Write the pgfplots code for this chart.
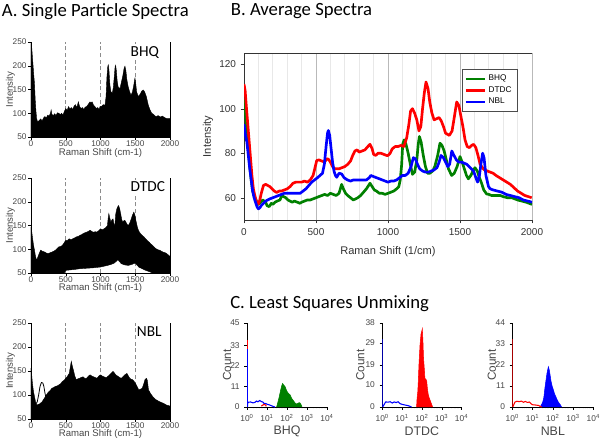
\documentclass[border=0pt]{standalone}
\usepackage{pgfplots}
\pgfplotsset{compat=1.18}
\usepackage{fontspec}
\setmainfont{Liberation Sans}
\newfontfamily\calibri{Carlito}
\definecolor{bgreen}{RGB}{0,128,0}
\definecolor{bred}{RGB}{255,0,0}
\definecolor{bblue}{RGB}{0,0,255}
\definecolor{tickgray}{RGB}{70,70,70}

\pgfplotsset{
  spectA/.style={
    scale only axis, width=104.25pt,
    xmin=0,xmax=2000,ymin=50,ymax=250,
    axis x line=bottom, axis y line=box, ytick pos=left,
    axis line style={-, black, line width=0.5pt},
    xtick={0,500,1000,1500,2000}, ytick={50,100,150,200,250},
    xmajorgrids, major grid style={densely dashed, gray!90, line width=0.5pt},
    tick align=outside, major tick length=2pt, tick style={black},
    ticklabel style={font=\fontsize{6.2}{7}\selectfont, text=tickgray},
    /pgf/number format/assume math mode=true,
    /pgf/number format/1000 sep={},
    xticklabel style={inner sep=0.6pt}, yticklabel style={inner sep=1.2pt},
    xlabel={Raman Shift (cm-1)}, ylabel={Intensity},
    label style={font=\fontsize{7.2}{8}\selectfont, text=tickgray},
    ylabel style={at={([xshift=-15.4pt]axis description cs:0,0.5)}, anchor=center},
  },
  histC/.style={
    scale only axis, width=60pt, height=63pt,
    xmin=1, xmax=10000, ymin=0,
    axis lines=left, axis line style={-, black, line width=0.5pt},
    xtick={1,10,100,1000,10000},
    xticklabels={10\textsuperscript{0},10\textsuperscript{1},10\textsuperscript{2},10\textsuperscript{3},10\textsuperscript{4}},
    tick align=outside, major tick length=2pt, minor tick length=1pt, tick style={black},
    ticklabel style={font=\fontsize{6.3}{7}\selectfont, text=tickgray},
    /pgf/number format/assume math mode=true,
    ylabel={Count},
    label style={font=\fontsize{8.8}{9}\selectfont, text=tickgray},
    xlabel style={at={([yshift=-18.5pt]axis description cs:0.5,0)}, anchor=center, font=\fontsize{9.3}{10}\selectfont},
  },
}

\begin{document}
\begin{tikzpicture}
\path[use as bounding box] (0,0) rectangle (450pt,-330pt);

% ---------- titles ----------
\node[anchor=base west, inner sep=0pt, font=\calibri\fontsize{14}{16}\selectfont] at (1.3pt,-12.5pt) {A. Single Particle Spectra};
\node[anchor=base west, inner sep=0pt, font=\calibri\fontsize{14}{16}\selectfont] at (173pt,-11.8pt) {B. Average Spectra};
\node[anchor=base west, inner sep=0pt, font=\calibri\fontsize{14}{16}\selectfont] at (172.5pt,-231pt) {C. Least Squares Unmixing};

% ---------- A: BHQ ----------
\begin{axis}[spectA, height=71.25pt, at={(23.25pt,-102.75pt)}, anchor=origin,
  xlabel style={at={([yshift=-11.9pt]axis description cs:0.5,0)}, anchor=center}]
\addplot[fill=black, draw=black, line width=0.3pt] coordinates {
(0,247)(10,240)(20,219)(30,200)(40,180)(50,163)(60,130)(70,107)(80,90)(90,84)(100,82)(120,85)(140,88)(160,84)(180,90)(200,93)(220,90)(240,96)(260,94)(280,100)(290,107)(300,98)(320,95)(340,99)(360,95)(380,101)(400,100)(420,97)(440,100)(460,96)(480,104)(500,110)(520,106)(540,114)(560,109)(580,112)(600,108)(620,115)(640,118)(660,112)(681,124)(700,114)(720,110)(740,112)(760,108)(780,113)(800,114)(820,118)(849,124)(860,122)(880,124)(900,117)(920,114)(940,110)(960,112)(980,108)(993,114)(1020,115)(1040,118)(1065,117)(1080,135)(1092,175)(1105,199)(1113,202)(1122,190)(1135,160)(1150,145)(1170,142)(1185,155)(1200,180)(1210,198)(1218,201)(1228,190)(1240,168)(1255,155)(1281,152)(1300,165)(1320,178)(1340,195)(1352,199)(1365,190)(1380,170)(1400,155)(1420,145)(1439,138)(1460,145)(1480,160)(1490,170)(1496,174)(1505,165)(1520,145)(1544,135)(1570,140)(1595,147)(1616,149)(1635,145)(1660,135)(1688,117)(1710,108)(1736,100)(1760,98)(1780,95)(1800,93)(1830,95)(1860,92)(1890,94)(1920,91)(1950,89)(1976,89)(2000,89)
(2000,50)(0,50)} -- cycle;
\node[anchor=base west, fill=white, inner sep=1pt, font=\calibri\fontsize{11.5}{13}\selectfont] at ([xshift=1pt]axis description cs:0.696,0.845) {BHQ};
\end{axis}

% ---------- A: DTDC ----------
\begin{axis}[spectA, height=71.25pt, at={(23.25pt,-204.75pt)}, anchor=origin,
  xlabel style={at={([yshift=-11.2pt]axis description cs:0.5,0)}, anchor=center}]
\addplot[fill=black, draw=black, line width=0.3pt] coordinates {
(0,147)(10,138)(20,126)(35,110)(50,98)(65,85)(80,77)(100,84)(120,92)(140,98)(160,96)(180,95)(200,94)(220,92)(250,91)(280,93)(300,94)(330,96)(350,98)(380,102)(400,105)(430,106)(450,108)(470,112)(500,119)(520,118)(550,122)(580,120)(600,122)(630,124)(650,126)(680,127)(700,129)(730,131)(750,133)(780,135)(800,136)(830,138)(850,140)(880,137)(900,136)(930,137)(950,136)(980,140)(1000,143)(1030,141)(1050,143)(1080,146)(1100,150)(1110,165)(1120,175)(1135,165)(1150,157)(1165,162)(1180,164)(1195,152)(1205,148)(1220,175)(1235,185)(1250,190)(1260,192)(1275,186)(1290,175)(1305,163)(1320,157)(1335,160)(1350,161)(1370,156)(1385,152)(1400,150)(1420,155)(1440,163)(1460,172)(1480,178)(1495,172)(1510,160)(1530,147)(1545,140)(1560,136)(1580,132)(1600,129)(1625,126)(1650,122)(1675,118)(1700,115)(1725,111)(1750,108)(1775,104)(1800,101)(1825,99)(1850,98)(1875,96)(1900,94)(1925,93)(1950,91)(1975,88)(2000,85)
(2000,50)(1750,50)(1700,53)(1650,55.6)(1600,59)(1550,62.6)(1500,71)(1450,68)(1400,66)(1350,67)(1300,69.6)(1250,78)(1200,71)(1150,68)(1100,66)(1000,62.6)(900,61)(800,60)(700,59)(600,57)(500,55.6)(480,50)(0,50)} -- cycle;
\node[anchor=base west, fill=white, inner sep=1pt, font=\calibri\fontsize{11.5}{13}\selectfont] at ([xshift=1pt]axis description cs:0.696,0.856) {DTDC};
\end{axis}

% ---------- A: NBL ----------
\begin{axis}[spectA, height=72pt, at={(23.25pt,-314.25pt)}, anchor=origin,
  xlabel style={at={([yshift=-11.6pt]axis description cs:0.5,0)}, anchor=center}]
\addplot[fill=black, draw=black, line width=0.3pt] coordinates {
(0,156)(10,142)(20,125)(35,108)(50,97)(65,86)(80,79)(100,80)(130,82)(160,86)(200,95)(230,102)(250,106)(280,110)(300,114)(330,116)(350,118)(380,119)(400,121)(430,124)(450,128)(480,131)(500,135)(520,138)(550,145)(565,158)(580,170)(595,160)(610,152)(630,140)(650,132)(680,134)(700,135)(730,137)(750,138)(780,134)(800,135)(830,140)(850,142)(880,139)(900,138)(930,136)(950,135)(980,140)(1000,142)(1030,139)(1050,138)(1080,136)(1100,138)(1130,142)(1150,145)(1180,149)(1200,146)(1220,142)(1250,139)(1280,136)(1300,135)(1330,139)(1350,142)(1380,145)(1400,140)(1420,135)(1440,133)(1460,132)(1480,129)(1500,125)(1525,118)(1550,111)(1575,112)(1600,114)(1620,122)(1640,132)(1660,135)(1675,130)(1690,111)(1720,103)(1750,97)(1775,93)(1800,90)(1850,86)(1900,83)(1950,79)(2000,77)
(2000,50)(0,50)} -- cycle;
\addplot[black, line width=0.6pt] coordinates {(75,82)(90,86)(110,100)(130,118)(150,126)(170,125)(185,118)(200,105)(215,94)(230,90)};
\node[anchor=base west, fill=white, inner sep=1pt, font=\calibri\fontsize{11.5}{13}\selectfont] at ([xshift=1pt]axis description cs:0.741,0.857) {NBL};
\end{axis}

% ---------- B: Average spectra ----------
\begin{axis}[scale only axis, width=216pt, height=125.25pt, at={(183pt,-165pt)}, anchor=origin,
  xmin=0, xmax=2000, ymin=50, ymax=125,
  axis x line=box, axis y line=left, xtick pos=left, ytick pos=left,
  axis line style={-, black!80, line width=0.6pt},
  xtick={0,500,1000,1500,2000}, minor xtick={100,200,300,400,600,700,800,900,1100,1200,1300,1400,1600,1700,1800,1900},
  ytick={60,80,100,120},
  xmajorgrids, xminorgrids,
  major grid style={gray!55, line width=0.5pt}, minor grid style={gray!18, line width=0.5pt},
  tick align=outside, major tick length=2.5pt, minor tick length=0pt, tick style={black!80},
  ticklabel style={font=\fontsize{7.5}{8}\selectfont, text=black!80},
  /pgf/number format/assume math mode=true, /pgf/number format/1000 sep={},
  xlabel={Raman Shift (1/cm)}, ylabel={Intensity},
  label style={font=\fontsize{8.3}{9}\selectfont, text=black!80},
  xlabel style={at={([yshift=-23.75pt]axis description cs:0.5,0)}, anchor=center},
  ylabel style={at={([xshift=-27pt]axis description cs:0,0.5)}, anchor=center},
  legend style={at={(axis description cs:0.756,0.902)}, anchor=north west,
    draw=black!70, line width=0.4pt, fill=white, font=\fontsize{6.2}{7}\selectfont,
    inner xsep=2pt, inner ysep=2pt, row sep=-1.2pt},
  legend cell align=left,
  legend image code/.code={\draw[#1, line width=2pt] (0pt,0pt) -- (14pt,0pt);},
]
\addplot[bgreen, line width=2pt, line join=round] coordinates {
(0,104)(10,98)(20,90)(30,82)(40,74)(50,68)(60,63)(75,60)(90,58)(100,57)(115,58)(130,59)(150,58)(160,56.5)(175,56)(190,57.5)(200,57)(215,58)(230,58.5)(250,59)(262,61)(275,60.5)(290,60)(305,59)(320,58.5)(335,58)(350,58.5)(370,58)(389,57.5)(400,58)(420,58.5)(440,59)(460,59)(480,59.5)(500,60)(520,60.5)(540,61)(560,61.5)(580,61)(600,62)(620,61.5)(640,61)(660,62)(678,66)(690,64)(705,62)(720,61)(740,60)(759,59)(775,59.5)(790,60)(810,61)(830,62.5)(850,64)(875,66.5)(890,65)(905,63.5)(920,63)(940,62)(960,62)(980,61.5)(1000,62)(1020,62.5)(1040,63)(1060,64)(1075,65)(1085,68)(1095,75)(1102,84)(1112,86)(1125,84)(1140,80)(1155,75)(1170,70.5)(1185,71.5)(1200,77)(1210,84)(1218,87.5)(1230,85)(1245,79)(1260,74)(1275,71)(1290,71)(1310,72)(1325,74)(1345,79)(1361,84.5)(1375,83.5)(1390,81)(1405,77)(1420,73)(1442,70)(1460,71)(1480,74)(1500,78.5)(1515,76)(1530,73)(1545,70)(1558,68.5)(1575,70)(1590,72)(1604,73.5)(1620,72)(1635,69)(1650,66.5)(1665,63.5)(1685,61.7)(1700,61.5)(1720,61)(1750,61)(1780,61)(1800,60.5)(1830,60)(1860,60)(1900,59)(1930,58.5)(1960,58)(2000,57)};
\addlegendentry{BHQ}
\addplot[bred, line width=2pt, line join=round] coordinates {
(0,111)(8,108)(15,102)(25,94)(35,86)(45,78)(55,70)(65,64)(75,61)(90,57.5)(100,57.2)(110,59)(120,62)(135,65.5)(150,66)(165,65.5)(180,65)(195,64)(210,63)(227,62.4)(245,63)(260,63)(280,63.5)(300,64)(320,65)(340,66.5)(360,67)(380,67)(400,67)(420,67.5)(440,67)(460,68)(480,70)(495,74)(505,76.7)(520,77)(540,76.5)(560,76)(575,77.5)(586,77.3)(600,76)(615,74)(630,73)(644,73)(660,73)(680,73.5)(700,74)(720,75)(740,76.5)(755,79)(770,81)(785,81.5)(800,80.5)(820,81)(840,81.5)(860,83)(875,84)(890,82)(900,79.5)(915,79)(930,80)(950,80)(970,79.5)(990,79)(1000,79)(1015,80)(1030,82)(1050,83)(1070,83)(1090,83.5)(1110,83)(1130,87)(1145,93)(1157,99)(1170,100)(1185,98)(1200,95)(1215,90)(1228,92)(1240,100)(1252,107)(1264,112)(1278,109)(1290,103)(1305,98)(1320,95)(1338,95.5)(1355,96)(1370,94.5)(1385,92)(1400,89)(1426,88)(1445,90)(1460,96)(1477,103)(1492,101.5)(1505,97)(1520,92)(1535,86)(1550,83)(1565,82.5)(1581,83.5)(1595,84)(1610,82.5)(1625,79)(1639,75.2)(1655,73.5)(1670,72.5)(1690,72)(1710,71.5)(1730,71)(1750,70)(1775,69)(1800,68)(1825,67)(1850,66)(1875,64.5)(1900,63)(1925,62)(1950,61)(1975,60.5)(1998,60)};
\addlegendentry{DTDC}
\addplot[bblue, line width=2pt, line join=round] coordinates {
(0,93)(10,88)(20,85)(30,79)(40,73)(50,68)(60,63)(70,60)(80,58)(90,56)(100,55)(110,55.5)(120,56.5)(135,57.5)(150,58.5)(165,59)(180,59.5)(200,60)(220,60.5)(240,61)(260,61.5)(280,62)(300,62)(330,62)(360,62)(390,62)(410,63)(430,64)(450,65.5)(470,67)(490,68)(510,69)(528,70)(545,71)(558,75)(570,83)(580,89)(586,90.2)(595,88)(605,82)(615,76)(625,72)(635,70)(644,69.2)(660,71)(678,70.7)(695,69)(718,68)(740,67.5)(760,68)(780,68)(800,68)(830,68)(850,68)(870,69)(880,70)(900,69.5)(920,69)(940,68.5)(960,68)(980,67.5)(1000,67)(1020,67.5)(1040,67.5)(1060,68)(1080,69)(1100,70)(1120,70)(1140,71)(1160,74)(1176,78)(1190,77.5)(1205,75)(1220,73)(1240,72)(1260,71.5)(1280,71.5)(1300,72)(1320,72.5)(1340,73.5)(1355,76)(1368,79)(1385,78)(1400,76)(1415,74)(1428,75)(1443,81)(1458,79)(1475,77)(1490,76)(1510,76)(1530,75.5)(1548,75)(1570,73.5)(1594,72)(1610,69)(1622,67)(1635,70)(1645,75)(1657,80)(1667,78)(1680,70)(1698,65)(1710,64)(1730,63.5)(1760,63)(1790,62.5)(1820,61.5)(1850,61)(1880,60.5)(1910,60)(1940,59)(1970,58.5)(2000,58)};
\addlegendentry{NBL}
\end{axis}

% ---------- C1: BHQ ----------
\begin{axis}[xmode=log, histC, at={(185.25pt,-305.25pt)}, anchor=origin, ymax=45, ytick={0,11,22,33,45},
  xlabel={BHQ}, ylabel style={at={([xshift=-15pt]axis description cs:0,0.5)}, anchor=center}]
\addplot[bgreen, fill=bgreen, line width=0.4pt] coordinates {(30.2,0)(34,2)(40,5)(48,9)(55,11.5)(60.3,12.6)(68,11.8)(79.4,11)(90,9.5)(104.7,8)(120,7.2)(141,6.6)(174,4.5)(209,3.4)(260,2.0)(309,1.6)(372,2.2)(430,2.3)(490,1.6)(550,0.3)(560,0)};
\addplot[bblue, line width=0.8pt] coordinates {(1.05,0)(1.1,2.5)(1.5,2.7)(2,2.2)(2.5,2.5)(3,3.2)(3.5,2.8)(4.4,3.5)(5,3)(6.3,2.6)(7,2)(8.9,1.8)(10,1.5)(12.6,1.2)(15.8,0.8)(20.4,0.3)(25,0)};
\addplot[bred, line width=0.8pt] coordinates {(5.2,0.5)(6.5,1.2)(8,1.3)(9.3,0.4)};
\addplot[bblue, line width=1.2pt] coordinates {(1.03,0)(1.03,31)};
\addplot[bred, line width=1.2pt] coordinates {(1.03,31)(1.03,36)};
\end{axis}

% ---------- C2: DTDC ----------
\begin{axis}[xmode=log, histC, width=59.5pt, at={(286.7pt,-305.25pt)}, anchor=origin, ymax=38, ytick={0,10,19,29,38},
  xlabel={DTDC}, ylabel style={at={([xshift=-16.5pt]axis description cs:0,0.5)}, anchor=center}]
\addplot[bred, fill=bred, line width=0.4pt] coordinates {(53.7,0)(57,4)(62,7)(66,12)(70.8,19)(80,28)(90,33)(104.7,35.3)(112,30)(120.2,22)(130,18)(141,13)(160,12.5)(174,11.7)(190,8)(209,5.6)(234,4)(263,2.9)(300,1.5)(347,0)};
\addplot[bblue, line width=0.8pt] coordinates {(1.05,0)(1.48,2.3)(2,2.2)(2.5,2.4)(3.2,1.8)(4,2.3)(5,2.0)(6.3,2.4)(8,1.5)(10,1.2)(12.6,1.0)(15.8,0.8)(20.4,0.6)(25,0.3)(30,0)};
\addplot[bblue, line width=1.2pt] coordinates {(1.03,0)(1.03,30.7)};
\end{axis}

% ---------- C3: NBL ----------
\begin{axis}[xmode=log, histC, width=60.75pt, at={(384.25pt,-305.25pt)}, anchor=origin, ymax=44, ytick={0,11,22,33,44},
  xlabel={NBL}, ylabel style={at={([xshift=-15.4pt]axis description cs:0,0.5)}, anchor=center}]
\addplot[bblue, fill=bblue, line width=0.4pt] coordinates {(23.4,0)(27,1)(31.6,2.6)(36,5)(40.7,10)(46,14)(52,18)(60.3,21.1)(68,19)(81.3,13.5)(92,11)(104.7,9.2)(120,7)(138,5.6)(160,4)(186,2.6)(210,1.8)(234,1.2)(260,0.3)(270,0)};
\addplot[bred, line width=0.8pt] coordinates {(1.05,0)(1.35,2.6)(1.7,3.0)(2.2,2.8)(2.8,3.1)(3.5,2.5)(4.4,2.9)(5.5,2.4)(7,2.6)(8.9,1.5)(10,1.2)(15,1.0)(20,0.8)(23,0.4)(28,0)};
\addplot[bred, line width=1.2pt] coordinates {(1.03,0)(1.03,35.5)};
\end{axis}
\end{tikzpicture}
\end{document}
